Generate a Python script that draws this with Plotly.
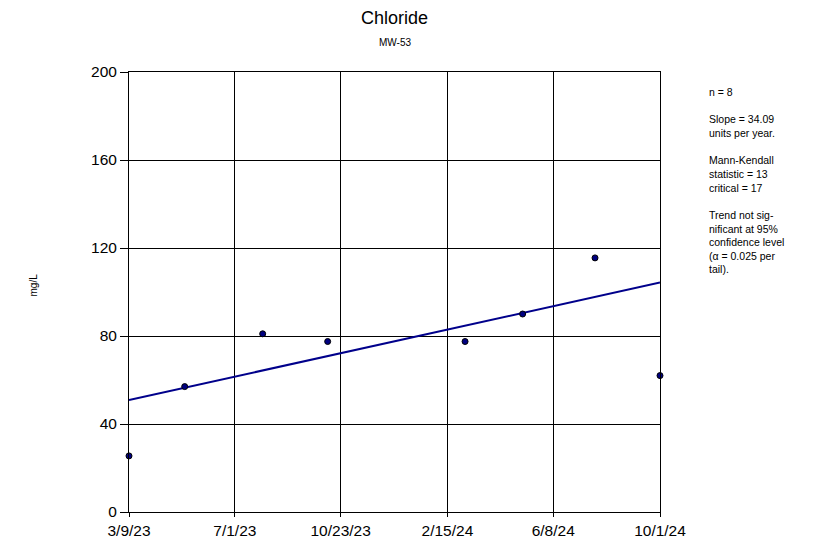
import plotly.graph_objects as go
from datetime import date

# Data
sample_dates = ["2023-03-09", "2023-05-08", "2023-07-31", "2023-10-09",
                "2024-03-05", "2024-05-06", "2024-07-23", "2024-10-01"]
chloride = [25.5, 57.0, 81.0, 77.5, 77.5, 90.0, 115.5, 62.0]

trend_dates = ["2023-03-09", "2024-10-01"]
trend_start = 50.9
slope_per_year = 34.09

tick_dates = ["2023-03-09", "2023-07-01", "2023-10-23", "2024-02-15", "2024-06-08", "2024-10-01"]
tick_labels = ["3/9/23", "7/1/23", "10/23/23", "2/15/24", "6/8/24", "10/1/24"]
y_ticks = [0, 40, 80, 120, 160, 200]

stats_lines = ["n = 8", "", "Slope = 34.09", "units per year.", "",
               "Mann-Kendall", "statistic = 13", "critical = 17", "",
               "Trend not sig-", "nificant at 95%", "confidence level",
               "(\u03b1 = 0.025 per", "tail)."]

d0 = date.fromisoformat(trend_dates[0])
d1 = date.fromisoformat(trend_dates[1])
trend_vals = [trend_start, trend_start + slope_per_year * (d1 - d0).days / 365.25]

FONT = "Liberation Sans, Arial, sans-serif"

fig = go.Figure()
fig.add_trace(go.Scatter(x=trend_dates, y=trend_vals, mode="lines",
                         line=dict(color="#00008B", width=2), showlegend=False,
                         cliponaxis=False))
fig.add_trace(go.Scatter(x=sample_dates, y=chloride, mode="markers",
                         marker=dict(color="#000080", size=6,
                                     line=dict(color="black", width=1)),
                         showlegend=False, cliponaxis=False))

fig.update_layout(
    width=825, height=544,
    margin=dict(l=121, r=173, t=64, b=40),
    paper_bgcolor="white", plot_bgcolor="white",
    font=dict(family=FONT, color="black", size=15),
    xaxis=dict(range=[trend_dates[0], trend_dates[1]], tickvals=tick_dates,
               ticktext=tick_labels, showgrid=True, gridcolor="black", gridwidth=1,
               showline=True, linecolor="black", linewidth=1, mirror=True,
               ticks="outside", ticklen=4, tickcolor="black", zeroline=False,
               tickfont=dict(size=15.5)),
    yaxis=dict(range=[0, 200], tickvals=y_ticks, showgrid=True, gridcolor="black",
               gridwidth=1, showline=True, linecolor="black", linewidth=1,
               mirror=True, ticks="outside", ticklen=8, tickcolor="black",
               zeroline=False, tickfont=dict(size=15.5)),
    annotations=[
        dict(text="Chloride", xref="paper", yref="paper", x=0.5, y=1,
             yshift=54, showarrow=False, font=dict(size=18), yanchor="middle"),
        dict(text="MW-53", xref="paper", yref="paper", x=0.5, y=1,
             yshift=30, showarrow=False, font=dict(size=10), yanchor="middle"),
        dict(text="mg/L", xref="paper", yref="paper", x=0, xshift=-104, y=0.5,
             yshift=7, textangle=-90, showarrow=False, font=dict(size=10)),
        dict(text="<br>".join(stats_lines), xref="paper", yref="paper",
             x=1, xshift=47, y=1, yshift=-12, xanchor="left", yanchor="top",
             align="left", showarrow=False, font=dict(size=10.5)),
    ],
)

fig.write_html("out.html")
